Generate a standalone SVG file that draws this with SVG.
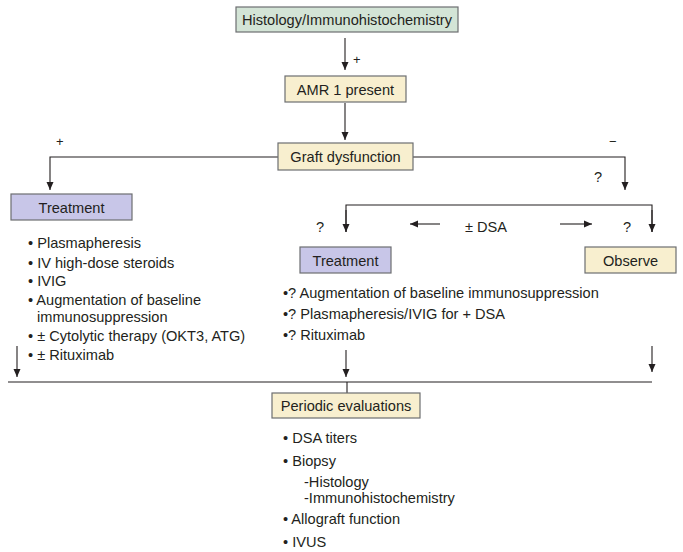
<svg xmlns="http://www.w3.org/2000/svg" width="683" height="552" viewBox="0 0 683 552">
<style>
text{font-family:"Liberation Sans",Arial,sans-serif;font-size:14.6px;fill:#231f20}
.b{stroke:#6d6e71;stroke-width:1.2}
.g{fill:#d3e4d6}.y{fill:#f8efcf}.p{fill:#c8c6e8}
.c line,.c polyline{stroke:#231f20;stroke-width:1.1;fill:none}
.s{font-size:13px}
</style>
<defs>
<marker id="a" viewBox="0 0 8 10" refX="8" refY="5" markerWidth="8" markerHeight="10" markerUnits="userSpaceOnUse" orient="auto"><path d="M0,1.5 L8,5 L0,8.5 z" fill="#231f20"/></marker>
</defs>
<rect width="683" height="552" fill="#fff"/>
<g class="c" id="connectors">
<line x1="345" y1="38" x2="345" y2="70" marker-end="url(#a)"/>
<line x1="345" y1="103" x2="345" y2="140" marker-end="url(#a)"/>
<polyline points="278,157 50,157 50,190" marker-end="url(#a)"/>
<polyline points="413,157 625,157 625,190" marker-end="url(#a)"/>
<polyline points="346,232 346,205 652,205 652,232" />
<line x1="346" y1="210" x2="346" y2="232" marker-end="url(#a)"/>
<line x1="652" y1="210" x2="652" y2="232" marker-end="url(#a)"/>
<line x1="440" y1="224" x2="410" y2="224" marker-end="url(#a)"/>
<line x1="560" y1="224" x2="592" y2="224" marker-end="url(#a)"/>
<line x1="17" y1="346" x2="17" y2="377" marker-end="url(#a)"/>
<line x1="346" y1="350" x2="346" y2="377" marker-end="url(#a)"/>
<line x1="652" y1="346" x2="652" y2="372" marker-end="url(#a)"/>
<line x1="8" y1="382" x2="652" y2="382"/>
<line x1="347" y1="382" x2="347" y2="393"/>
</g>
<g id="histology"><rect class="b g" x="236" y="7" width="222" height="25"/><text x="347" y="25" text-anchor="middle">Histology/Immunohistochemistry</text></g>
<text class="s" x="353" y="64">+</text>
<g id="amr"><rect class="b y" x="285" y="76" width="121" height="26"/><text x="345.5" y="94.5" text-anchor="middle">AMR 1 present</text></g>
<g id="graft"><rect class="b y" x="278" y="143" width="135" height="27"/><text x="345.5" y="161.5" text-anchor="middle">Graft dysfunction</text></g>
<text class="s" x="56" y="146">+</text>
<text class="s" x="609" y="146">−</text>
<text x="594" y="182">?</text>
<g id="treatment1"><rect class="b p" x="11" y="194" width="121" height="26"/><text x="71.5" y="212.5" text-anchor="middle">Treatment</text>
<text x="28" y="248">• Plasmapheresis</text>
<text x="28" y="268">• IV high-dose steroids</text>
<text x="28" y="286">• IVIG</text>
<text x="28" y="305">• Augmentation of baseline</text>
<text x="37" y="322">immunosuppression</text>
<text x="28" y="341">• ± Cytolytic therapy (OKT3, ATG)</text>
<text x="28" y="360">• ± Rituximab</text>
</g>
<text x="316" y="232">?</text>
<text x="465" y="232">± DSA</text>
<text x="623" y="232">?</text>
<g id="treatment2"><rect class="b p" x="300" y="247" width="91" height="26"/><text x="345.5" y="265.5" text-anchor="middle">Treatment</text>
<text x="283" y="298">•? Augmentation of baseline immunosuppression</text>
<text x="283" y="319">•? Plasmapheresis/IVIG for + DSA</text>
<text x="283" y="340">•? Rituximab</text>
</g>
<g id="observe"><rect class="b y" x="585" y="247" width="91" height="26"/><text x="630.5" y="265.5" text-anchor="middle">Observe</text></g>
<g id="periodic"><rect class="b y" x="272" y="393" width="148" height="25"/><text x="346" y="411" text-anchor="middle">Periodic evaluations</text>
<text x="283" y="443">• DSA titers</text>
<text x="283" y="466">• Biopsy</text>
<text x="304" y="487">-Histology</text>
<text x="304" y="503">-Immunohistochemistry</text>
<text x="283" y="524">• Allograft function</text>
<text x="283" y="547">• IVUS</text>
</g>
</svg>
